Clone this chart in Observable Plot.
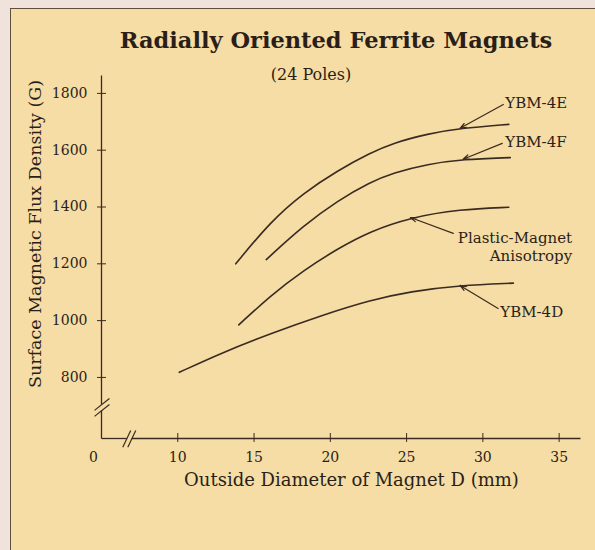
<!DOCTYPE html>
<html><head><meta charset="utf-8">
<script src="https://cdn.jsdelivr.net/npm/d3@7"></script>
<script src="https://cdn.jsdelivr.net/npm/@observablehq/plot@0.6"></script>
<style>
html,body{margin:0;padding:0;background:#efe3db;}
#page{position:relative;width:595px;height:550px;overflow:hidden;font-family:"DejaVu Serif",serif;color:#2a1f18;}
#paper{position:absolute;left:10px;top:8px;right:-3px;bottom:-3px;background:#f6dca5;border-left:1.5px solid #5e4f43;border-top:1.5px solid #5e4f43;}
#title{position:absolute;left:100px;width:472px;top:26px;line-height:28px;text-align:center;font-weight:bold;font-size:22.5px;white-space:nowrap;}
#chart{position:absolute;left:0;top:58px;}
</style></head><body>
<div id="page"><div id="paper"></div><div id="title">Radially Oriented Ferrite Magnets</div><div id="chart"></div></div>
<script>
// ---- data ----
const seriesNames = ["YBM-4E", "YBM-4F", "Plastic-Magnet Anisotropy", "YBM-4D"];
const diameter4E = [13.8, 16.1, 18.25, 20.5, 22.6, 24.1, 26.4, 28.5, 31.7];
const flux4E     = [1200, 1350, 1450, 1529, 1590, 1625, 1658, 1677, 1691];
const diameter4F = [15.8, 18.25, 20.5, 22.6, 24.1, 26.4, 28.7, 31.8];
const flux4F     = [1215, 1335, 1423, 1487, 1520, 1551, 1568, 1574];
const diameterPM = [14.0, 16.1, 18.25, 20.5, 22.6, 25.25, 28.5, 31.7];
const fluxPM     = [985, 1089, 1177, 1254, 1314, 1363, 1392, 1399];
const diameter4D = [10.1, 12.8, 16.1, 19.4, 22.6, 25.25, 28.5, 32.0];
const flux4D     = [818, 885, 955, 1018, 1072, 1103, 1124, 1132];

const xTicks = [10, 15, 20, 25, 30, 35];
const yTicks = [800, 1000, 1200, 1400, 1600, 1800];
const originLabel = "0";

// annotation labels and leader lines
const labelText  = ["YBM-4E", "YBM-4F", "Plastic-Magnet\nAnisotropy", "YBM-4D"];
const labelX     = [31.47, 31.47, 35.85, 31.14];
const labelY     = [1765, 1627, 1263, 1029];
const leaderX    = [31.34, 31.27, 28.06, 31.0];
const leaderY    = [1761, 1624, 1307, 1043];
const leaderIdx  = [7, 6, 5, 6];
const rightAligned = [false, false, true, false];

// broken axes
const xMin = 5, xMax = 36.4, yMin = 585, yMax = 1863;
const xBreak = 6.82, yBreak = 694.5;

// ---- build tables ----
const seriesX = [diameter4E, diameter4F, diameterPM, diameter4D];
const seriesY = [flux4E, flux4F, fluxPM, flux4D];
const rows = seriesNames.flatMap((s, i) => seriesX[i].map((d, j) => ({series: s, d, b: seriesY[i][j]})));
const notes = labelText.map((t, i) => ({
  text: t, x: labelX[i], y: labelY[i], lx: leaderX[i], ly: leaderY[i],
  tx: seriesX[i][leaderIdx[i]], ty: seriesY[i][leaderIdx[i]], right: rightAligned[i]
}));
const axisSegs = [
  {x1: xMin, y1: yMin, x2: xBreak - 0.165, y2: yMin},
  {x1: xBreak + 0.165, y1: yMin, x2: xMax, y2: yMin},
  {x1: xMin, y1: yMin, x2: xMin, y2: yBreak - 10.5},
  {x1: xMin, y1: yBreak + 10.5, x2: xMin, y2: yMax}
];
const slashes = [
  {x1: xBreak - 0.165 - 0.26, y1: yMin - 31, x2: xBreak - 0.165 + 0.26, y2: yMin + 28},
  {x1: xBreak + 0.165 - 0.26, y1: yMin - 31, x2: xBreak + 0.165 + 0.26, y2: yMin + 28},
  {x1: xMin - 0.46, y1: yBreak - 10.5 - 21, x2: xMin + 0.52, y2: yBreak - 10.5 + 21},
  {x1: xMin - 0.46, y1: yBreak + 10.5 - 21, x2: xMin + 0.52, y2: yBreak + 10.5 + 21}
];

const ink = "#3a2b22";
const chart = Plot.plot({
  width: 595, height: 492,
  marginLeft: 101, marginRight: 15, marginTop: 17, marginBottom: 112,
  style: {fontFamily: "DejaVu Serif, serif", fontSize: "14px", color: "#2a1f18", background: "transparent"},
  x: {domain: [xMin, xMax]},
  y: {domain: [yMin, yMax]},
  marks: [
    Plot.link(axisSegs, {x1: "x1", y1: "y1", x2: "x2", y2: "y2", stroke: ink, strokeWidth: 1.3}),
    Plot.link(slashes, {x1: "x1", y1: "y1", x2: "x2", y2: "y2", stroke: ink, strokeWidth: 1.2}),
    Plot.axisY({ticks: yTicks, tickSize: 9, dx: 5, tickPadding: 10, tickFormat: d => String(d), label: null, stroke: ink, fontSize: 14}),
    Plot.axisX({ticks: xTicks, tickSize: 9, dy: -5, tickPadding: 10, tickFormat: d => String(d), label: null, stroke: ink, fontSize: 14}),
    Plot.axisX({ticks: [xMin], tickSize: 0, dx: -8, tickPadding: 14, tickFormat: () => originLabel, label: null, fontSize: 14}),
    Plot.line(rows, {x: "d", y: "b", z: "series", curve: "basis", stroke: ink, strokeWidth: 1.6}),
    Plot.arrow(notes, {x1: "lx", y1: "ly", x2: "tx", y2: "ty", stroke: ink, strokeWidth: 1.2, headLength: 8, headAngle: 40}),
    Plot.text(notes.filter(d => !d.right), {x: "x", y: "y", text: "text", textAnchor: "start", lineAnchor: "middle", fontSize: 15, fill: "#2a1f18"}),
    Plot.text(notes.filter(d => d.right), {x: "x", y: "y", text: "text", textAnchor: "end", lineAnchor: "middle", lineHeight: 1.25, fontSize: 15, fill: "#2a1f18"}),
    Plot.text(["(24 Poles)"], {frameAnchor: "top", dx: -30, dy: -1, lineAnchor: "middle", fontSize: 16, fill: "#2a1f18"}),
    Plot.text(["Surface Magnetic Flux Density (G)"], {frameAnchor: "left", rotate: -90, dx: -66.5, dy: -23, textAnchor: "middle", lineAnchor: "middle", fontSize: 17.5, fill: "#2a1f18"}),
    Plot.text(["Outside Diameter of Magnet D (mm)"], {frameAnchor: "bottom", dx: 10.5, dy: 42, lineAnchor: "middle", fontSize: 18, fill: "#2a1f18"})
  ]
});
document.getElementById("chart").appendChild(chart);
</script>
</body></html>
